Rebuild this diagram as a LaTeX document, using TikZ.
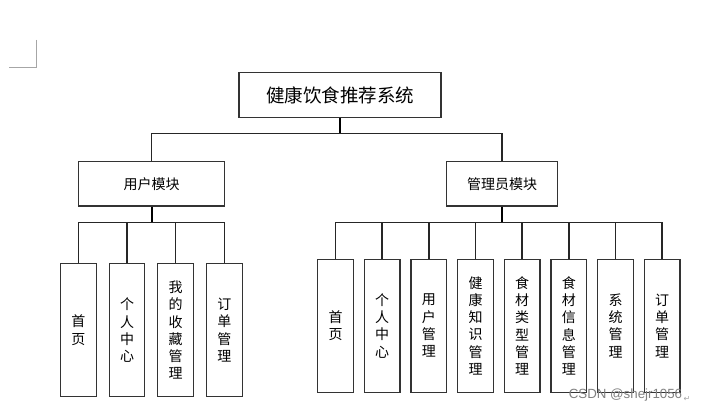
\documentclass[tikz,border=0pt]{standalone}
\usepackage{fontspec}
\newfontfamily\cjk{Noto Sans CJK SC}
\newfontfamily\wmfont{Liberation Sans}
\newfontfamily\symfont{DejaVu Sans}
\begin{document}
\begin{tikzpicture}[x=1pt,y=-1pt,
  box/.style={draw=black!80,line width=1.1pt,fill=white,inner sep=0pt,anchor=center},
  titlebox/.style={box,minimum width=202pt,minimum height=44.6pt,font=\cjk\fontsize{18.5}{20}\selectfont},
  modbox/.style={box,minimum height=44.3pt,font=\cjk\fontsize{14}{16}\selectfont},
  leafbox/.style={box,minimum width=35.6pt,minimum height=133pt,align=center,font=\cjk\fontsize{14}{17.3}\selectfont},
  bus/.style={draw=black!85,line width=1.5pt},
  stem/.style={draw=black,line width=2pt}
]
\useasboundingbox (0,0) rectangle (702,412);
\fill[white] (0,0) rectangle (702,412);
% page corner mark
\draw[gray!70,line width=0.8pt] (36.7,40) -- (36.7,67) -- (9,67);

\node[titlebox] (title) at (340,95) {健康饮食推荐系统};
\node[modbox,minimum width=146.4pt] (user) at (151.5,183.8) {用户模块};
\node[modbox,minimum width=110.6pt] (admin) at (502,183.8) {管理员模块};

\coordinate (b0) at (340,133.7);
\coordinate (ub) at (151.5,222.7);
\coordinate (ab) at (502,222.3);

\draw[stem] (title.south) -- (b0);
\draw[bus] (user.north) |- (b0) -| (admin.north);
\draw[stem] (user.south) -- (ub);
\draw[stem] (admin.south) -- (ab);

% user leaves
\node[leafbox] (u1) at (78.3,330.2) {首\\页};
\node[leafbox] (u2) at (127,330.2) {个\\人\\中\\心};
\node[leafbox] (u3) at (175.7,330.2) {我\\的\\收\\藏\\管\\理};
\node[leafbox] (u4) at (224.4,330.2) {订\\单\\管\\理};
\foreach \n in {u1,u2,u3,u4} \draw[bus] (ub) -| (\n.north);

% admin leaves
\node[leafbox] (a1) at (335.5,325.8) {首\\页};
\node[leafbox] (a2) at (382.2,325.8) {个\\人\\中\\心};
\node[leafbox] (a3) at (428.8,325.8) {用\\户\\管\\理};
\node[leafbox] (a4) at (475.5,325.8) {健\\康\\知\\识\\管\\理};
\node[leafbox] (a5) at (522.2,325.8) {食\\材\\类\\型\\管\\理};
\node[leafbox] (a6) at (568.8,325.8) {食\\材\\信\\息\\管\\理};
\node[leafbox] (a7) at (615.5,325.8) {系\\统\\管\\理};
\node[leafbox] (a8) at (662.2,325.8) {订\\单\\管\\理};
\foreach \n in {a1,a2,a3,a4,a5,a6,a7,a8} \draw[bus] (ab) -| (\n.north);

% watermark
\node[text=black!50,font=\wmfont\fontsize{13.3}{14}\selectfont,inner sep=0pt] (wm) at (625.5,395) {CSDN @shejr1056};
\node[text=gray!70,font=\symfont\fontsize{8}{9}\selectfont,inner sep=0pt,anchor=west] (ret) at (wm.east) [yshift=-4pt,xshift=1pt] {↵};
\end{tikzpicture}
\end{document}
